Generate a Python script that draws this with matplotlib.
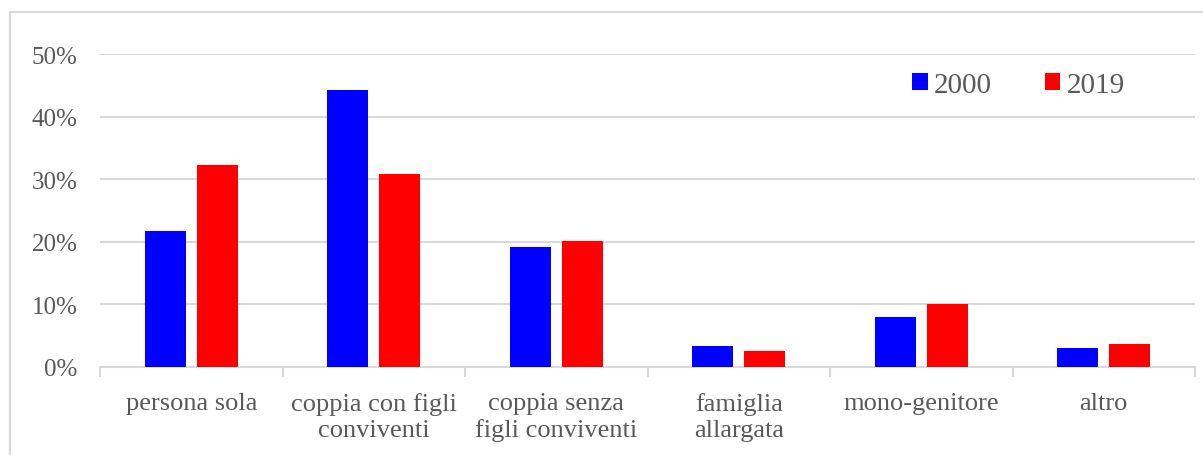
import numpy as np
import matplotlib.pyplot as plt
from matplotlib.patches import Rectangle
from matplotlib.ticker import FuncFormatter, FixedLocator

categories = ["persona sola", "coppia con figli\nconviventi", "coppia senza\nfigli conviventi",
              "famiglia\nallargata", "mono-genitore", "altro"]
anni = ["2000", "2019"]
valori_2000 = [21.8, 44.2, 19.2, 3.4, 8.0, 3.0]
valori_2019 = [32.3, 30.8, 20.1, 2.6, 10.1, 3.7]

plt.rcParams['font.family'] = ['Liberation Serif', 'DejaVu Serif']
grigio = '#595959'
linea = '#d9d9d9'

fig = plt.figure(figsize=(12.03, 4.56), dpi=100)
# cornice del grafico
fig.patches.append(Rectangle((10 / 1203, -0.1), 1.2, 1 - 13 / 456 + 0.1, transform=fig.transFigure,
                             fill=False, edgecolor=linea, linewidth=1.5))

ax = fig.add_axes([100 / 1203, 1 - 368 / 456, 1095 / 1203, (368 - 55) / 456])
x = np.arange(len(categories))
w = 0.225
ax.bar(x - 0.143, valori_2000, w, color='#0000ff', label=anni[0], zorder=3)
ax.bar(x + 0.143, valori_2019, w, color='#ff0000', label=anni[1], zorder=3)

ax.set_xlim(-0.5, len(categories) - 0.5)
ax.set_ylim(0, 50)
ax.set_yticks(np.arange(0, 51, 10))
ax.yaxis.set_major_formatter(FuncFormatter(lambda v, p: f"{v:.0f}%"))
ax.grid(axis='y', color=linea, linewidth=1.5, zorder=0)
ax.set_xticks(x)
ax.set_xticklabels(categories)
ax.xaxis.set_minor_locator(FixedLocator(np.arange(-0.5, len(categories), 1)))
ax.tick_params(axis='x', which='major', length=0, pad=18, labelsize=19, labelcolor=grigio)
ax.tick_params(axis='x', which='minor', length=7, width=1.5, color=linea)
ax.tick_params(axis='y', length=0, pad=16, labelsize=18, labelcolor=grigio)
for t in ax.get_xticklabels():
    t.set_linespacing(1.25)
for s in ['left', 'right', 'top']:
    ax.spines[s].set_visible(False)
ax.spines['bottom'].set_color(linea)
ax.spines['bottom'].set_linewidth(1.5)

leg = ax.legend(loc='upper right', bbox_to_anchor=(0.949, 0.99), ncol=2, frameon=False,
                fontsize=21, borderpad=0, handlelength=0.52, handleheight=0.52, handletextpad=0.2,
                columnspacing=1.85, labelcolor=grigio)

fig.savefig('out.png', dpi=100)
